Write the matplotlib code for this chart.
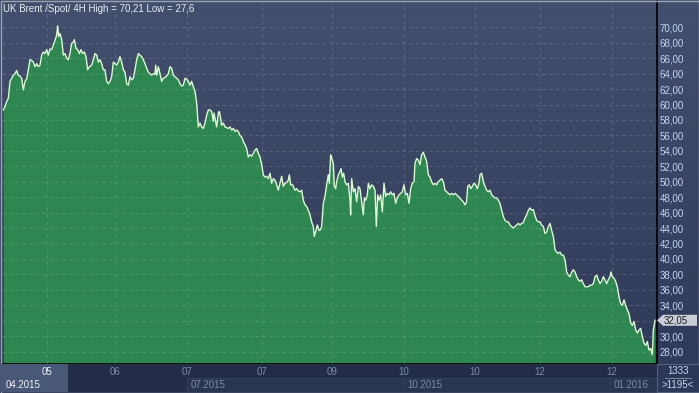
import numpy as np
import matplotlib
matplotlib.use('Agg')
from matplotlib import pyplot as plt
from matplotlib.colors import LinearSegmentedColormap
from matplotlib.patches import Rectangle, Polygon

plt.rcParams['font.family'] = ['Liberation Sans', 'DejaVu Sans']

# 4H bars (index) and price
bars = [10, 15, 20, 25, 30, 35, 40, 45, 50, 55, 60, 65, 70, 75, 80, 85, 90, 95, 100, 105,
        110, 115, 120, 125, 130, 135, 140, 145, 150, 155, 160, 165, 170, 173, 176, 180, 185, 190, 195, 200,
        205, 210, 215, 220, 223, 228, 233, 238, 243, 248, 253, 258, 263, 268, 275, 280, 285, 290, 295, 300,
        305, 310,
        315, 320, 325, 330, 335, 340, 345, 350, 355, 360, 365, 370, 375, 380, 385, 390, 395, 400,
        405, 410, 415, 420, 425, 430, 435, 440, 445, 450, 455, 460, 465, 467, 470, 475, 480, 485, 490, 495,
        500, 505, 510, 515, 520, 525, 530, 535, 540, 545, 550, 555, 560, 565, 570, 575, 580, 585, 590, 595,
        600, 605, 610, 615, 620, 625,
        630, 635, 640, 642, 645, 650, 655, 658, 662, 665, 670, 675, 680, 685, 690, 695, 700, 705, 710, 715,
        720, 725, 730, 735, 740, 745, 750, 755, 760, 765, 770, 775, 780, 785, 790, 795, 800, 805, 810, 815,
        820, 825, 830, 835, 840, 845, 850, 855, 860, 865, 868, 872, 878, 885, 890, 895, 900, 905, 910, 915,
        920, 925, 930, 935, 940,
        943, 948, 952, 957, 960, 965, 970, 975, 980, 985, 988, 992, 997, 1000, 1003, 1007, 1010, 1015, 1020, 1023,
        1027, 1031, 1035, 1040, 1045, 1050, 1052, 1055, 1060, 1065, 1070, 1075, 1080, 1085, 1090, 1093, 1097, 1102, 1105, 1110,
        1115, 1120, 1125, 1129, 1133, 1137, 1142, 1147, 1152, 1157, 1162, 1167, 1172, 1177, 1182, 1187, 1192, 1197, 1202, 1207,
        1212, 1217, 1222, 1227, 1232, 1237, 1242, 1245, 1250, 1255,
        1260, 1265, 1270, 1275, 1280, 1285, 1290, 1295, 1300, 1305, 1310, 1315, 1320, 1325, 1330, 1335, 1340, 1345, 1350, 1355,
        1360, 1365, 1370, 1375, 1380, 1385, 1390, 1395, 1400, 1403, 1408, 1412, 1417, 1422, 1427, 1432, 1437, 1440, 1445, 1450,
        1455, 1460, 1465, 1470, 1475, 1480, 1485, 1490, 1495, 1500, 1505, 1510, 1515, 1520, 1525, 1530, 1535, 1540, 1545, 1550,
        1555, 1560, 1565, 1570, 1575, 1580, 1585, 1590, 1595, 1600,
        1605, 1610, 1615, 1620, 1625, 1630, 1635, 1640, 1645, 1650, 1655, 1660, 1665, 1670, 1675, 1680, 1685, 1690, 1695, 1700,
        1705, 1710, 1715, 1720, 1725, 1730, 1735, 1740, 1745, 1750, 1755, 1760, 1765, 1770, 1775, 1780, 1785, 1790, 1795, 1800,
        1805, 1810, 1815, 1820, 1825, 1830, 1833, 1837, 1842, 1847, 1852, 1857, 1862, 1867, 1872, 1877, 1882, 1887, 1892, 1897,
        1902, 1907, 1912, 1917, 1922, 1927, 1932, 1937, 1942, 1947, 1952, 1957, 1960, 1965]

price = [59.3, 59.7, 60.4, 60.8, 63.0, 63.4, 63.8, 64.0, 64.4, 63.8, 63.7, 63.4, 61.9, 63.0, 63.3, 64.5, 65.8, 65.7, 65.5, 64.9,
         65.3, 64.9, 65.1, 66.4, 66.8, 66.6, 67.1, 66.4, 67.2, 67.1, 67.7, 68.3, 69.0, 70.2, 68.8, 69.2, 68.4, 66.4, 66.6, 66.0,
         65.8, 66.6, 67.9, 68.1, 68.4, 67.3, 67.1, 66.6, 67.1, 66.6, 66.8, 66.2, 64.5, 64.9, 65.1, 65.8, 66.6, 66.4, 65.5, 65.8,
         65.3, 64.5,
         64.5, 63.0, 62.7, 63.0, 63.6, 65.5, 65.3, 65.1, 65.5, 66.2, 65.5, 64.5, 64.2, 62.7, 62.5, 63.6, 63.2, 63.4,
         64.5, 65.8, 66.6, 66.4, 66.2, 65.8, 65.3, 64.7, 64.2, 64.0, 63.8, 64.0, 63.9, 65.1, 63.8, 64.9, 64.0, 63.0, 63.4, 63.5,
         63.7, 64.0, 64.9, 64.7, 63.8, 63.6, 63.4, 63.2, 62.7, 62.4, 62.5, 63.4, 63.3, 63.0, 62.5, 63.0, 62.3, 61.7, 60.2, 57.1,
         57.6, 57.1, 56.9, 57.6, 58.6, 59.3,
         59.3, 59.1, 57.8, 58.9, 58.2, 57.1, 58.9, 59.1, 58.2, 57.3, 57.6, 57.1, 57.0, 56.9, 57.1, 56.7, 56.9, 56.5, 56.7, 56.5,
         56.0, 55.8, 55.2, 54.8, 54.3, 53.2, 53.5, 53.3, 53.7, 54.1, 54.3, 53.7, 53.2, 52.2, 50.9, 50.6, 50.7, 50.4, 51.1, 49.8,
         50.4, 50.2, 49.6, 48.9, 49.8, 50.7, 49.4, 49.8, 49.9, 50.2, 50.9, 49.6, 49.6, 48.9, 49.1, 48.8, 48.7, 48.9, 47.6, 47.0,
         46.8, 46.3, 45.7, 44.8, 44.2,
         42.9, 43.7, 44.4, 43.7, 43.7, 44.2, 47.2, 48.1, 49.6, 50.9, 49.8, 53.5, 52.8, 52.4, 49.4, 49.1, 50.0, 50.9, 51.3, 51.7,
         50.6, 51.1, 50.0, 49.6, 49.8, 47.6, 45.7, 50.4, 48.7, 49.1, 47.4, 49.4, 49.1, 47.4, 45.7, 47.9, 47.6, 48.3, 49.8, 49.1,
         49.6, 49.4, 48.9, 44.2, 48.3, 47.6, 48.3, 46.1, 49.8, 48.1, 48.5, 48.3, 48.7, 48.3, 48.5, 47.2, 47.9, 48.3, 48.5, 48.7,
         49.6, 48.3, 48.5, 47.2, 49.1, 49.8, 50.0, 52.4, 53.0, 52.8,
         52.2, 53.5, 53.8, 53.2, 52.6, 50.9, 50.6, 50.0, 49.6, 49.8, 49.6, 50.0, 50.2, 50.4, 50.0, 48.9, 48.7, 48.5, 48.3, 48.5,
         48.3, 48.5, 48.3, 48.1, 47.9, 47.6, 47.4, 47.0, 47.4, 49.4, 49.6, 49.1, 49.4, 49.8, 49.6, 49.1, 49.8, 50.9, 51.1, 50.0,
         49.4, 48.9, 48.7, 48.9, 48.3, 48.1, 47.9, 47.9, 47.6, 47.2, 46.3, 45.5, 45.0, 44.8, 44.8, 44.4, 44.2, 44.0, 44.2, 44.4,
         44.6, 44.4, 44.6, 44.7, 45.3, 45.7, 46.3, 46.6, 46.3, 46.4,
         45.6, 45.0, 44.8, 44.8, 44.4, 44.2, 43.3, 43.5, 44.2, 44.6, 43.7, 42.9, 41.2, 40.9, 40.7, 40.9, 40.5, 40.5, 39.9, 38.3,
         37.9, 37.7, 38.3, 38.6, 38.3, 37.7, 37.3, 37.1, 37.3, 36.8, 36.4, 36.4, 36.4, 36.6, 36.6, 36.8, 37.7, 37.9, 37.3, 36.8,
         37.1, 37.7, 37.3, 36.8, 37.3, 37.7, 38.3, 37.7, 37.5, 37.1, 36.4, 35.1, 34.2, 34.0, 34.7, 34.0, 33.4, 32.9, 31.7, 31.4,
         31.9, 30.8, 30.4, 30.8, 31.0, 29.9, 29.1, 28.8, 29.3, 28.2, 28.4, 27.6, 30.8, 32.05]

month_pos = [140, 345, 561, 785, 995, 1211, 1424, 1620, 1835]
month_lbl = ['05', '06', '07', '07', '09', '10', '10', '12', '12']
quarter_pos = [0, 561, 1211, 1830]
quarter_lbl = ['04.2015', '07.2015', '10.2015', '01.2016']
y_ticks = list(range(28, 71, 2))
last_price = 32.05
title = 'UK Brent /Spot/ 4H High = 70,21 Low = 27,6'

W, H = 699, 393
fig = plt.figure(figsize=(W / 100, H / 100), dpi=100)
fig.patch.set_facecolor('#252f4b')


def frac(x0, y0, x1, y1):
    # pixel box (top-left origin) -> figure fraction
    return [x0 / W, 1 - y1 / H, (x1 - x0) / W, (y1 - y0) / H]


# background gradient
bg = fig.add_axes(frac(0, 0, W, 364))
cmap = LinearSegmentedColormap.from_list('bg', ['#434f6d', '#303b59'])
bg.imshow(np.linspace(0, 1, 100).reshape(-1, 1), aspect='auto', cmap=cmap,
          extent=[0, 1, 0, 1], origin='upper')
bg.axis('off')

# main chart
ax = fig.add_axes(frac(2, 1, 657, 364))
ax.set_facecolor('none')
ax.fill_between(bars, price, 20, color='#2e8650', lw=0, zorder=1)
ax.plot(bars, price, color='#dcf9d2', lw=1.0, zorder=2)
ax.set_xlim(6, 1971)
ax.set_ylim(26.39, 73.41)

ax.set_xticks(month_pos)
ax.set_yticks(y_ticks)
ax.grid(True, color='white', alpha=0.14, ls=(0, (3, 3)), lw=0.8)
ax.set_axisbelow(False)
ax.yaxis.tick_right()
# the 32 label sits under the last-price marker
ax.set_yticklabels(['' if abs(v - last_price) < 1 else '%d,00' % v for v in y_ticks])
ax.tick_params(axis='y', length=0, pad=2, labelsize=7, labelcolor='#c0d4f4')
ax.tick_params(axis='x', length=0, labelbottom=False)
for s in ['top', 'left']:
    ax.spines[s].set_visible(False)
for s in ['right', 'bottom']:
    ax.spines[s].set_color('black')
    ax.spines[s].set_linewidth(1.2)

ax.text(0.002, 0.992, title, transform=ax.transAxes, ha='left', va='top',
        fontsize=7, color='#e8ecf4')

# outer overlay in pixel units
fr = fig.add_axes([0, 0, 1, 1])
fr.set_xlim(0, W)
fr.set_ylim(H, 0)
fr.axis('off')
fr.add_patch(Rectangle((0.5, 0.5), W - 1, H - 1, fc='none', ec='#9aa2b2', lw=1))

# last price marker, placed through the main axis scale
yp = H - ax.transData.transform((0, last_price))[1]
fr.add_patch(Polygon([(657, yp), (663, yp - 5.5), (697, yp - 5.5), (697, yp + 5.5), (663, yp + 5.5)],
                     closed=True, fc='#c9cdd5', ec='none', zorder=5))
fr.text(664, yp, ('%.2f' % last_price).replace('.', ','), ha='left', va='center',
        fontsize=7, color='#1a1d24', zorder=6)

# bottom date strip
bx = fig.add_axes(frac(2, 364, 657, 392))
bx.set_xlim(6, 1971)
bx.set_ylim(28, 0)
bx.axis('off')
bx.add_patch(Rectangle((6, 0), 1965, 28, fc='#232d48', ec='none', zorder=0))
for i in range(1, len(quarter_pos)):
    end = quarter_pos[i + 1] if i + 1 < len(quarter_pos) else 1971
    bx.add_patch(Rectangle((quarter_pos[i], 14), end - quarter_pos[i], 14,
                           fc='#2a3552', ec='#36425f', lw=0.6, zorder=1))
bx.add_patch(Rectangle((-6, 0), 210, 28, fc='#4a5877', ec='none', zorder=1, clip_on=False))
for i, (p, lbl) in enumerate(zip(month_pos, month_lbl)):
    bx.text(p, 8, lbl, ha='center', va='center', fontsize=7,
            color='#f0f2f6' if i == 0 else '#7e8aa3', zorder=3)
for i, (p, lbl) in enumerate(zip(quarter_pos, quarter_lbl)):
    bx.text(max(p, 6) + 12, 21, lbl, ha='left', va='center', fontsize=7,
            color='#f0f2f6' if i == 0 else '#7e8aa3', zorder=3)

# bottom-right info cell
cx = fig.add_axes(frac(657, 364, W, 392))
cx.set_xlim(0, 42)
cx.set_ylim(28, 0)
cx.set_facecolor('#2c3856')
for s in cx.spines.values():
    s.set_color('#55617c')
    s.set_linewidth(0.8)
cx.set_xticks([])
cx.set_yticks([])
cx.text(21, 7, '1333', ha='center', va='center', fontsize=7, color='#c5d4ec')
cx.plot([8, 34], [13.5, 13.5], color='#8a96ad', lw=0.6)
cx.text(21, 21, '>1195<', ha='center', va='center', fontsize=7, color='#c5d4ec')

fig.savefig('out.png', dpi=100, facecolor=fig.get_facecolor())
